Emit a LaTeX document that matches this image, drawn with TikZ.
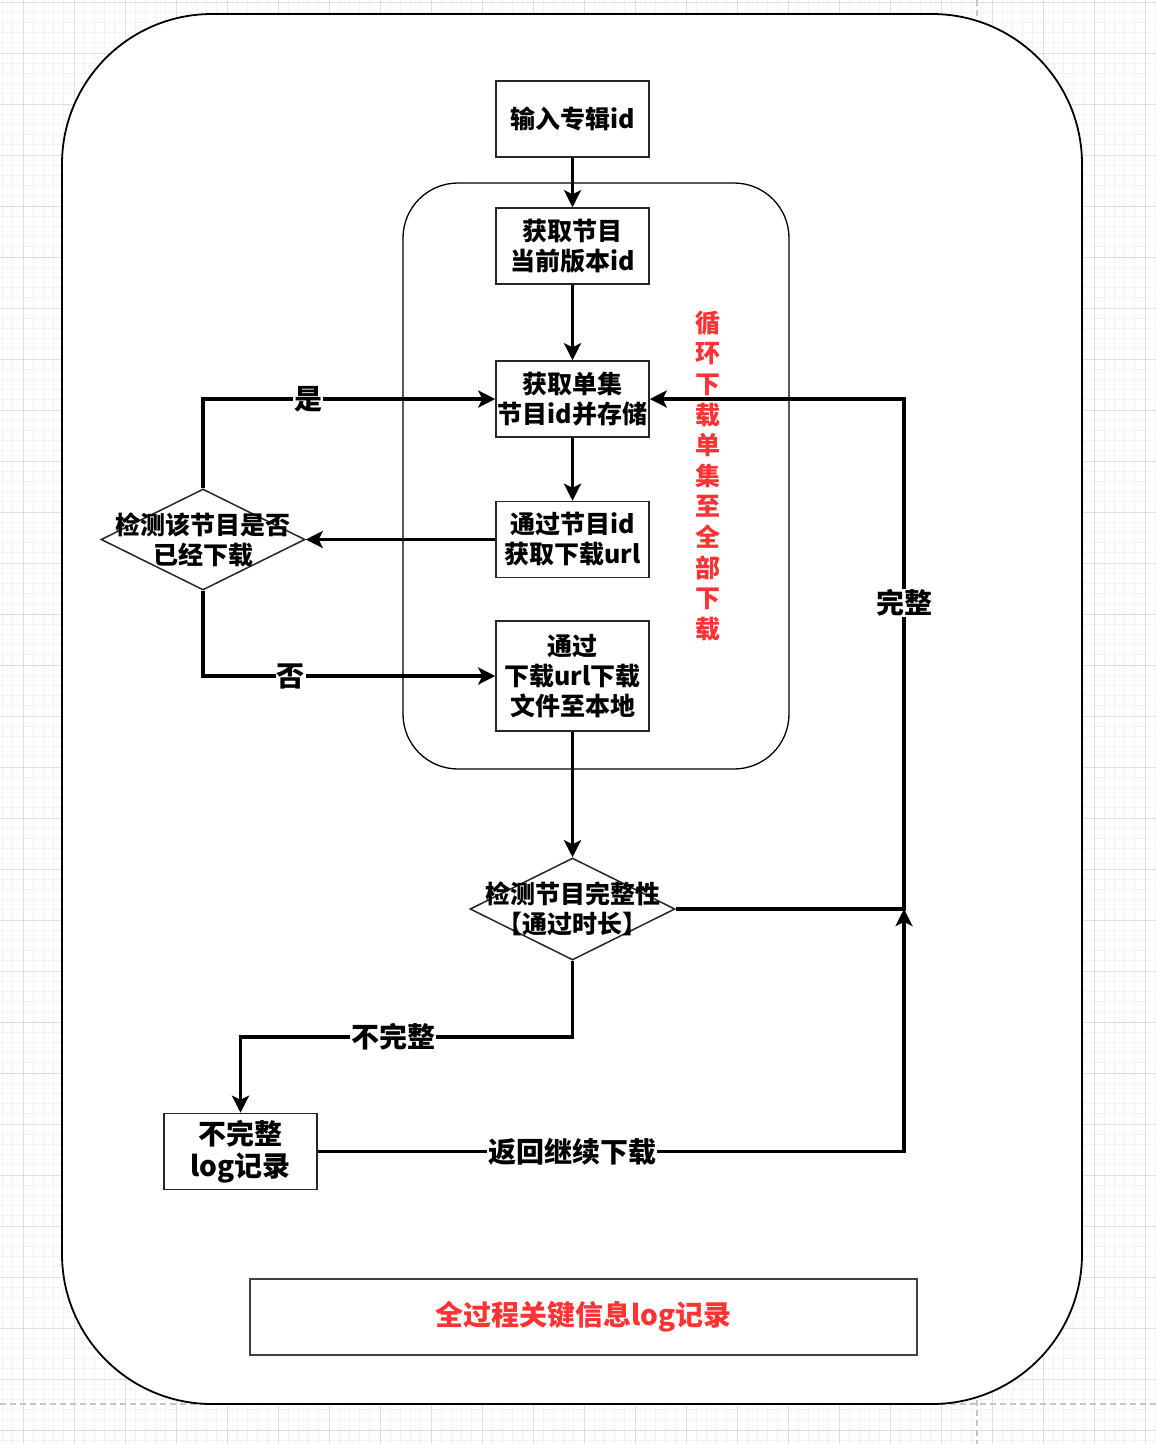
\documentclass[tikz,border=0pt]{standalone}
\usepackage{fontspec}
\setmainfont{Noto Sans CJK SC}
\usetikzlibrary{shapes.geometric,arrows.meta}
\definecolor{gridminor}{HTML}{F2F2F2}
\definecolor{gridmajor}{HTML}{DEDEDE}
\definecolor{pagebreak}{HTML}{C4C4C4}
\definecolor{alert}{HTML}{FF3333}

\begin{document}
\begin{tikzpicture}[x=1pt,y=-1pt,
  stepbox/.style={draw=black!85,line width=1.5pt,fill=white,minimum width=153pt,
    minimum height=76pt,align=center,inner sep=0pt,
    font=\fontsize{25}{30}\selectfont\bfseries},
  decide/.style={draw=black!85,line width=1.5pt,fill=white,diamond,inner sep=0pt,
    minimum width=204pt,minimum height=101pt},
  dtext/.style={align=center,inner sep=0pt,font=\fontsize{25}{30}\selectfont\bfseries},
  flow/.style={line width=3.2pt,-{Stealth[length=17pt,width=17pt,inset=4pt]}},
  lbl/.style={fill=white,inner sep=1pt,font=\fontsize{28}{30}\selectfont\bfseries},
]
\useasboundingbox (0,0) rectangle (1156,1444);
\fill[white] (0,0) rectangle (1156,1444);

% background grid
\foreach \i in {-2,...,111} \draw[gridminor,line width=1pt] ({23+10.2*\i},0) -- ({23+10.2*\i},1444);
\foreach \j in {0,...,141} \draw[gridminor,line width=1pt] (0,{2+10.2*\j}) -- (1156,{2+10.2*\j});
\foreach \i in {0,...,22} \draw[gridmajor,line width=1pt] ({23+51*\i},0) -- ({23+51*\i},1444);
\foreach \j in {0,...,28} \draw[gridmajor,line width=1pt] (0,{2+51*\j}) -- (1156,{2+51*\j});

% page breaks
\draw[pagebreak,line width=1.5pt,dash pattern=on 6pt off 4pt] (977,0) -- (977,1444);
\draw[pagebreak,line width=1.5pt,dash pattern=on 6pt off 4pt] (0,1404) -- (1156,1404);

% containers
\draw[line width=1.8pt,fill=white,rounded corners=150pt] (62,14) rectangle (1082,1404);
\draw[line width=1.3pt,fill=white,rounded corners=55pt] (403,183) rectangle (789,769);

% steps
\node[stepbox] (in)  at (572.5,119)   {输入专辑id};
\node[stepbox] (ver) at (572.5,246)   {获取节目\\当前版本id};
\node[stepbox] (ep)  at (572.5,399)   {获取单集\\节目id并存储};
\node[stepbox] (url) at (572.5,539.5) {通过节目id\\获取下载url};
\node[stepbox,minimum height=110pt] (dl) at (572.5,676) {通过\\下载url下载\\文件至本地};
\node[stepbox,font=\fontsize{28}{32}\selectfont\bfseries] (nc) at (240.5,1151.5) {不完整\\log记录};

% decisions
\node[decide] (d1) at (203,539.5) {};
\node[dtext] at (d1) {检测该节目是否\\已经下载};
\node[decide,minimum width=205pt,minimum height=102pt] (d2) at (572.5,909) {};
\node[dtext] at (d2) {检测节目完整性\\【通过时长】};

% loop note
\node[text=alert,align=center,inner sep=0pt,font=\fontsize{25}{30.6}\selectfont\bfseries]
  (loop) at (708,476) {循\\环\\下\\载\\单\\集\\至\\全\\部\\下\\载};

% log note
\node[draw=black!75,line width=1.5pt,minimum width=667pt,minimum height=76pt,
  text=alert,font=\fontsize{28}{30}\selectfont\bfseries] (log) at (583.5,1317) {全过程关键信息log记录};

% junction points
\coordinate (rt) at (904,399);
\coordinate (jn) at (904,909);
\coordinate (bt) at (572.5,1037);

% connectors
\draw[flow] (in.south) -- (ver.north);
\draw[flow] (ver.south) -- (ep.north);
\draw[flow] (ep.south) -- (url.north);
\draw[flow] (url.west) -- (d1.east);
\draw[flow] (d1.north) |- node[lbl,pos=0.68] {是} (ep.west);
\draw[flow] (d1.south) |- node[lbl,pos=0.65] {否} (dl.west);
\draw[flow] (dl.south) -- (d2.north);
\draw[flow] (d2.east) -| node[lbl,pos=0.8] {完整} (rt) -- (ep.east);
\draw[flow] (d2.south) -- (bt) -| node[lbl,pos=0.27] {不完整} (nc.north);
\draw[flow] (nc.east) -| node[lbl,pos=0.217] {返回继续下载} (jn);
\end{tikzpicture}
\end{document}
